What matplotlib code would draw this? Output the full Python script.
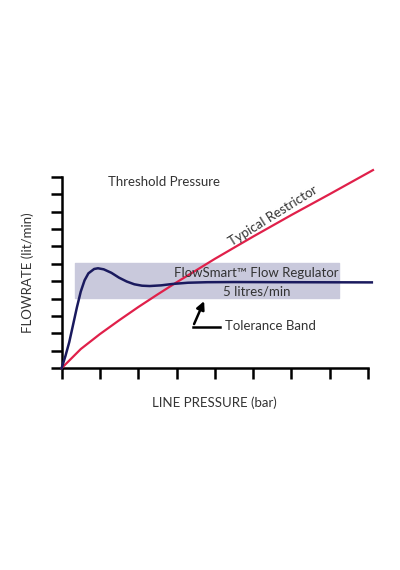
import matplotlib.pyplot as plt

# Flow regulator curve (pressure, flow)
reg_x = [0, 0.1, 0.2, 0.3, 0.4, 0.5, 0.6, 0.7, 0.85, 0.95, 1.1, 1.3, 1.5, 1.7, 1.9, 2.1, 2.3, 2.6, 2.9, 3.3, 3.8, 4.5, 6.0, 8.1]
reg_y = [0, 0.7, 1.5, 2.5, 3.5, 4.4, 5.05, 5.45, 5.7, 5.74, 5.68, 5.48, 5.2, 4.98, 4.82, 4.74, 4.72, 4.76, 4.84, 4.91, 4.94, 4.95, 4.94, 4.93]

# Typical restrictor curve
res_x = [0, 0.5, 1, 1.5, 2, 2.5, 3, 4, 5, 6, 7, 8.13]
res_y = [0, 1.1, 1.96, 2.75, 3.51, 4.23, 4.93, 6.28, 7.56, 8.8, 10.0, 11.38]

# Tolerance band
band_x = (0.35, 7.24)
band_y = (4.02, 6.06)

TEXT = "#333333"
FONT = "Lato"

fig = plt.figure(figsize=(4, 5.7), dpi=100)
ax = fig.add_axes([0.154, 0.354, 0.766, 0.336])
ax.set_xlim(0, 8)
ax.set_ylim(0, 11)

ax.fill_between(band_x, band_y[0], band_y[1], color="#c9c9dc", zorder=1)
ax.plot(res_x, res_y, color="#e0204a", lw=1.6, zorder=3, clip_on=False)
ax.plot(reg_x, reg_y, color="#1a1a5e", lw=1.8, zorder=4, clip_on=False)

for s in ["top", "right"]:
    ax.spines[s].set_visible(False)
for s in ["left", "bottom"]:
    ax.spines[s].set_linewidth(1.8)
ax.set_xticks(range(0, 9))
ax.set_yticks(range(0, 12))
ax.tick_params(direction="out", length=8, width=1.8, labelbottom=False, labelleft=False)

ax.text(1.21, 10.7, "Threshold Pressure", fontsize=9.5, color=TEXT, family=FONT, ha="left", va="center")
ax.text(5.52, 8.75, "Typical Restrictor", fontsize=9.5, color=TEXT, family=FONT,
        ha="center", va="center", rotation=32)
ax.text(5.09, 5.48, "FlowSmart™ Flow Regulator", fontsize=9.5, color=TEXT, family=FONT, ha="center", va="center")
ax.text(5.09, 4.38, "5 litres/min", fontsize=9.5, color=TEXT, family=FONT, ha="center", va="center")
ax.text(4.27, 2.45, "Tolerance Band", fontsize=9.5, color=TEXT, family=FONT, ha="left", va="center")

# arrow pointing at the band
ax.plot([4.13, 3.43], [2.39, 2.39], color="black", lw=1.8)
ax.annotate("", xy=(3.75, 4.0), xytext=(3.43, 2.39),
            arrowprops=dict(arrowstyle="-|>", color="black", lw=1.8, mutation_scale=12))

ax.set_xlabel("LINE PRESSURE (bar)", fontsize=9.5, color=TEXT, family=FONT, labelpad=12)
ax.set_ylabel("FLOWRATE (lit/min)", fontsize=9.5, color=TEXT, family=FONT, labelpad=12)

fig.savefig("out.png", dpi=100)
